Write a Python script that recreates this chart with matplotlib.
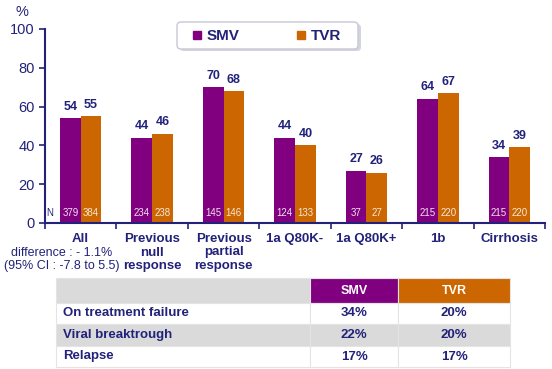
import numpy as np
import matplotlib.pyplot as plt
from matplotlib.patches import Rectangle, FancyBboxPatch

plt.rcParams['font.family'] = ['Liberation Sans', 'DejaVu Sans']

# data
categories = ["All", "Previous\nnull\nresponse", "Previous\npartial\nresponse",
              "1a Q80K-", "1a Q80K+", "1b", "Cirrhosis"]
smv = [54, 44, 70, 44, 27, 64, 34]
tvr = [55, 46, 68, 40, 26, 67, 39]
n_smv = [379, 234, 145, 124, 37, 215, 215]
n_tvr = [384, 238, 146, 133, 27, 220, 220]
all_note = ["difference : - 1.1%", "(95% CI : -7.8 to 5.5)"]

row_labels = ["On treatment failure", "Viral breaktrough", "Relapse"]
tab_smv = ["34%", "22%", "17%"]
tab_tvr = ["20%", "20%", "17%"]

purple = "#800080"
orange = "#CC6600"
navy = "#22227A"
grey = "#DADADA"

W, H = 552, 369
fig = plt.figure(figsize=(W / 100, H / 100), dpi=100)

ax = fig.add_axes([45 / W, 1 - 223 / H, 500 / W, 194 / H])
x = np.arange(len(categories))
bw = 0.29
ax.bar(x - bw / 2, smv, bw, color=purple, label="SMV")
ax.bar(x + bw / 2, tvr, bw, color=orange, label="TVR")

for i in range(len(x)):
    ax.text(x[i] - bw / 2, smv[i] + 2.8, str(smv[i]), ha='center', va='bottom',
            fontsize=9, fontweight='bold', color=navy)
    ax.text(x[i] + bw / 2, tvr[i] + 2.8, str(tvr[i]), ha='center', va='bottom',
            fontsize=9, fontweight='bold', color=navy)
    ax.text(x[i] - bw / 2, 5, str(n_smv[i]), ha='center', va='center',
            fontsize=7, color='#F0E0F0')
    ax.text(x[i] + bw / 2, 5, str(n_tvr[i]), ha='center', va='center',
            fontsize=7, color='#F8E8D8')
ax.text(-0.44, 5, "N", ha='center', va='center', fontsize=7, color=navy)

ax.set_xlim(-0.5, len(categories) - 0.5)
ax.set_ylim(0, 100)
ax.set_yticks([0, 20, 40, 60, 80, 100])
ax.set_xticks(np.arange(len(categories) + 1) - 0.5)
ax.set_xticklabels([])
ax.tick_params(axis='y', colors=navy, labelsize=10.5, length=4, width=1.2)
ax.tick_params(axis='x', colors=navy, length=4, width=1.2)
for s in ['top', 'right']:
    ax.spines[s].set_visible(False)
for s in ['left', 'bottom']:
    ax.spines[s].set_color(navy)
    ax.spines[s].set_linewidth(1.5)

# overlay in pixel coordinates
ov = fig.add_axes([0, 0, 1, 1])
ov.set_xlim(0, W)
ov.set_ylim(H, 0)
ov.axis('off')
ov.patch.set_alpha(0)

# category labels, one line at a time
to_px = lambda xd: 45 + (xd + 0.5) * 500 / len(categories)
for i, c in enumerate(categories):
    for j, line in enumerate(c.split("\n")):
        ov.text(to_px(x[i]), 239 + 13.5 * j, line, ha='center', va='center',
                fontsize=9.5, fontweight='bold', color=navy)
for j, line in enumerate(all_note):
    ov.text(to_px(x[0]) - 19, 252.5 + 13.5 * j, line, ha='center', va='center',
            fontsize=9, color=navy)

ov.text(22, 12, "%", ha='center', va='center', fontsize=10.5, color=navy)

# legend box
ov.add_patch(FancyBboxPatch((180, 24), 181, 27, boxstyle="round,pad=0,rounding_size=4",
                            facecolor='#D4D4DC', edgecolor='none'))
ov.add_patch(FancyBboxPatch((177, 22), 181, 27, boxstyle="round,pad=0,rounding_size=4",
                            facecolor='white', edgecolor='#C8C8D8', linewidth=1))
ov.add_patch(Rectangle((193, 31), 8, 8, color=purple))
ov.text(207, 35.5, "SMV", ha='left', va='center', fontsize=11, fontweight='bold', color=navy)
ov.add_patch(Rectangle((297, 31), 8, 8, color=orange))
ov.text(311, 35.5, "TVR", ha='left', va='center', fontsize=11, fontweight='bold', color=navy)

# table
col_x = [56, 310, 398, 510]
row_y = [278, 303, 324, 346, 367]
fills = [[grey, purple, orange], ['white'] * 3, [grey] * 3, ['white'] * 3]
for r in range(4):
    for c in range(3):
        ov.add_patch(Rectangle((col_x[c], row_y[r]), col_x[c + 1] - col_x[c],
                               row_y[r + 1] - row_y[r], facecolor=fills[r][c],
                               edgecolor='#E4E4E4', linewidth=0.8))
ov.text((col_x[1] + col_x[2]) / 2, (row_y[0] + row_y[1]) / 2, "SMV", ha='center', va='center',
        fontsize=9, fontweight='bold', color='white')
ov.text((col_x[2] + col_x[3]) / 2, (row_y[0] + row_y[1]) / 2, "TVR", ha='center', va='center',
        fontsize=9, fontweight='bold', color='white')
for r in range(3):
    yc = (row_y[r + 1] + row_y[r + 2]) / 2
    ov.text(63, yc, row_labels[r], ha='left', va='center', fontsize=9.5, fontweight='bold', color=navy)
    ov.text((col_x[1] + col_x[2]) / 2, yc, tab_smv[r], ha='center', va='center',
            fontsize=9.5, fontweight='bold', color=navy)
    ov.text((col_x[2] + col_x[3]) / 2, yc, tab_tvr[r], ha='center', va='center',
            fontsize=9.5, fontweight='bold', color=navy)

fig.savefig("out.png", dpi=100)
